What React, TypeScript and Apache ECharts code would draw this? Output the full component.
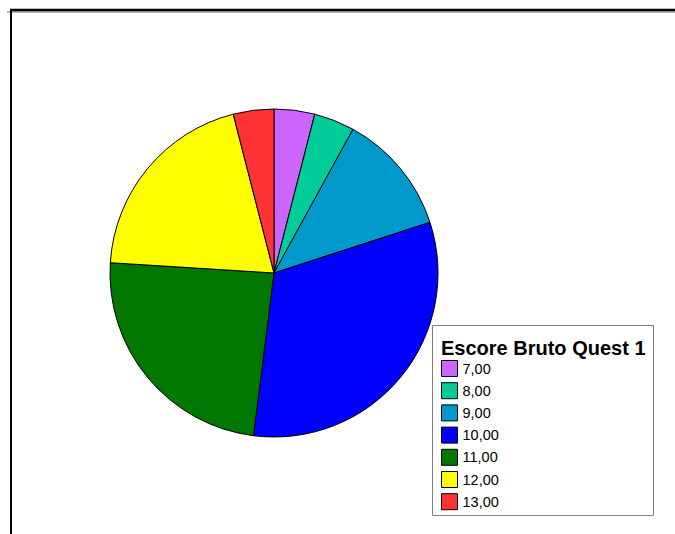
import React, { useEffect, useRef } from "react";
import * as echarts from "echarts";

const categories = ["7,00", "8,00", "9,00", "10,00", "11,00", "12,00", "13,00"];
const counts = [2, 2, 6, 16, 12, 10, 2];
const colors = ["#CC66FF", "#00CC99", "#0099CC", "#0000FF", "#007700", "#FFFF00", "#FF3333"];
const legendTitle = "Escore Bruto Quest 1";

export default function App() {
  const ref = useRef<HTMLDivElement>(null);
  useEffect(() => {
    if (!ref.current) return;
    const chart = echarts.init(ref.current, null, { renderer: "svg" });
    chart.setOption({
      animation: false,
      backgroundColor: "#ffffff",
      title: {
        text: legendTitle,
        left: 441,
        top: 338,
        padding: 0,
        textStyle: {
          fontFamily: "Liberation Sans, Arial, sans-serif",
          fontSize: 20,
          fontWeight: "bold",
          color: "#000",
        },
      },
      legend: {
        orient: "vertical",
        left: 441,
        top: 360,
        padding: 0,
        itemWidth: 16,
        itemHeight: 16,
        itemGap: 5.2,
        icon: "rect",
        data: categories,
        selectedMode: false,
        itemStyle: { borderColor: "#000", borderWidth: 1 },
        textStyle: {
          fontFamily: "Liberation Sans, Arial, sans-serif",
          fontSize: 14.5,
          lineHeight: 16,
          color: "#000",
          padding: [1, 0, 0, 0],
        },
      },
      graphic: [
        {
          type: "rect",
          shape: { x: 432.5, y: 325.5, width: 221, height: 190 },
          style: { fill: "#fff", stroke: "#808080", lineWidth: 1 },
          z: -1,
        },
        {
          type: "line",
          shape: { x1: 7, y1: 12, x2: 675, y2: 12 },
          style: { stroke: "#999", lineWidth: 1.5 },
        },
        {
          type: "line",
          shape: { x1: 10, y1: 10, x2: 675, y2: 10 },
          style: { stroke: "#000", lineWidth: 2.5 },
        },
        {
          type: "line",
          shape: { x1: 11, y1: 9, x2: 11, y2: 534 },
          style: { stroke: "#000", lineWidth: 2 },
        },
      ],
      series: [
        {
          type: "pie",
          center: [274, 273],
          radius: 164,
          startAngle: 90,
          clockwise: true,
          label: { show: false },
          labelLine: { show: false },
          emphasis: { disabled: true },
          itemStyle: { borderColor: "#000", borderWidth: 1 },
          data: categories.map((c, i) => ({
            name: c,
            value: counts[i],
            itemStyle: { color: colors[i] },
          })),
        },
      ],
    });
    return () => chart.dispose();
  }, []);
  return (
    <div
      ref={ref}
      style={{ position: "fixed", left: 0, top: 0, width: 675, height: 534 }}
    />
  );
}
